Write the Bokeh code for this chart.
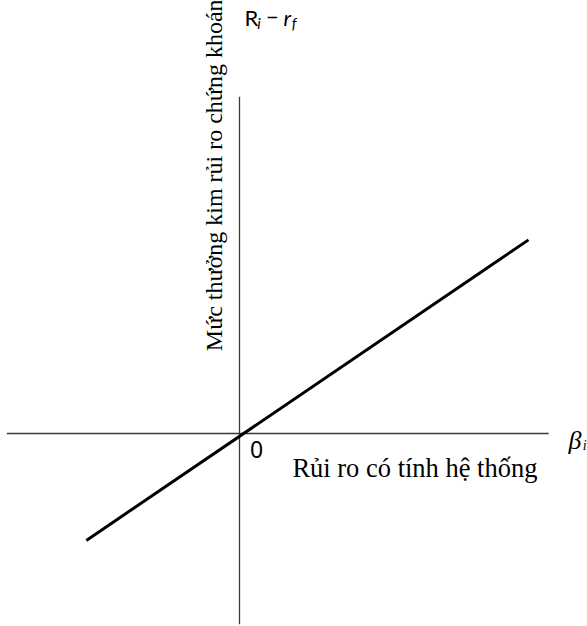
import math
from bokeh.plotting import figure
from bokeh.models import Range1d
from bokeh.core.properties import value
from bokeh.embed import file_html
from bokeh.resources import INLINE

# --- data (schematic SML: excess return vs beta) ---
beta = [-0.53, 1.0]
excess_return = [-0.37, 0.67]

# axis extents (data units)
x_axis_beta = [-0.805, 1.07]
y_axis_ret = [-0.66, 1.165]

# texts
y_title = "Mức thưởng kim rủi ro chứng khoán"
x_title = "Rủi ro có tính hệ thống"
origin_label = "0"

W, H = 587, 626
S = 289.0  # px per unit
x0_px, y0_px = 239, 433  # origin position inside figure

p = figure(width=W, height=H, output_backend="svg", toolbar_location=None,
           x_range=Range1d((0 - x0_px) / S, (W - x0_px) / S),
           y_range=Range1d((y0_px - H) / S, y0_px / S),
           min_border=0, outline_line_color=None)
p.axis.visible = False
p.grid.visible = False
p.background_fill_color = "white"
p.border_fill_color = "white"

axis_col = "#3a3a3a"
# horizontal axis
p.line(x=x_axis_beta, y=[0, 0], line_color=axis_col, line_width=1.3)
# vertical axis
p.line(x=[0, 0], y=y_axis_ret, line_color=axis_col, line_width=1.3)
# SML line
p.line(x=beta, y=excess_return, line_color="black", line_width=3)

serif = value("Liberation Serif")
sans = value("Lato")

# vertical title
p.text(x=[-0.087], y=[0.285], text=[y_title], angle=math.pi / 2,
       text_align="left", text_baseline="middle", text_font=serif,
       text_font_size="24px", text_color="black")

# horizontal title
p.text(x=[0.183], y=[-0.121], text=[x_title], text_align="left",
       text_baseline="alphabetic", text_font=serif,
       text_font_size="26.5px", text_color="black")

# origin label
p.text(x=[0.036], y=[-0.026], text=[origin_label], text_align="left",
       text_baseline="top", text_font=value("Noto Sans"),
       text_font_size="23px", text_color="black")

# beta_i label
p.text(x=[1.138], y=[-0.024], text=["β"], text_align="left",
       text_baseline="alphabetic", text_font=serif, text_font_style="italic",
       text_font_size="26px", text_color="black")
p.text(x=[1.188], y=[-0.040], text=["i"], text_align="left",
       text_baseline="alphabetic", text_font=serif, text_font_style="italic",
       text_font_size="14px", text_color="black")

# R_i - r_f label
yb = 1.438
p.text(x=[0.017], y=[yb], text=["R"], text_align="left",
       text_baseline="alphabetic", text_font=sans,
       text_font_size="22px", text_color="black")
p.text(x=[0.061], y=[yb - 0.018], text=["i"], text_align="left",
       text_baseline="alphabetic", text_font=sans, text_font_style="italic",
       text_font_size="15px", text_color="black")
p.text(x=[0.092], y=[yb], text=["−"], text_align="left",
       text_baseline="alphabetic", text_font=sans,
       text_font_size="22px", text_color="black")
p.text(x=[0.152], y=[yb], text=["r"], text_align="left",
       text_baseline="alphabetic", text_font=sans, text_font_style="italic",
       text_font_size="22px", text_color="black")
p.text(x=[0.181], y=[yb - 0.018], text=["f"], text_align="left",
       text_baseline="alphabetic", text_font=sans, text_font_style="italic",
       text_font_size="15px", text_color="black")

open("out.html", "w").write(file_html(p, INLINE))
